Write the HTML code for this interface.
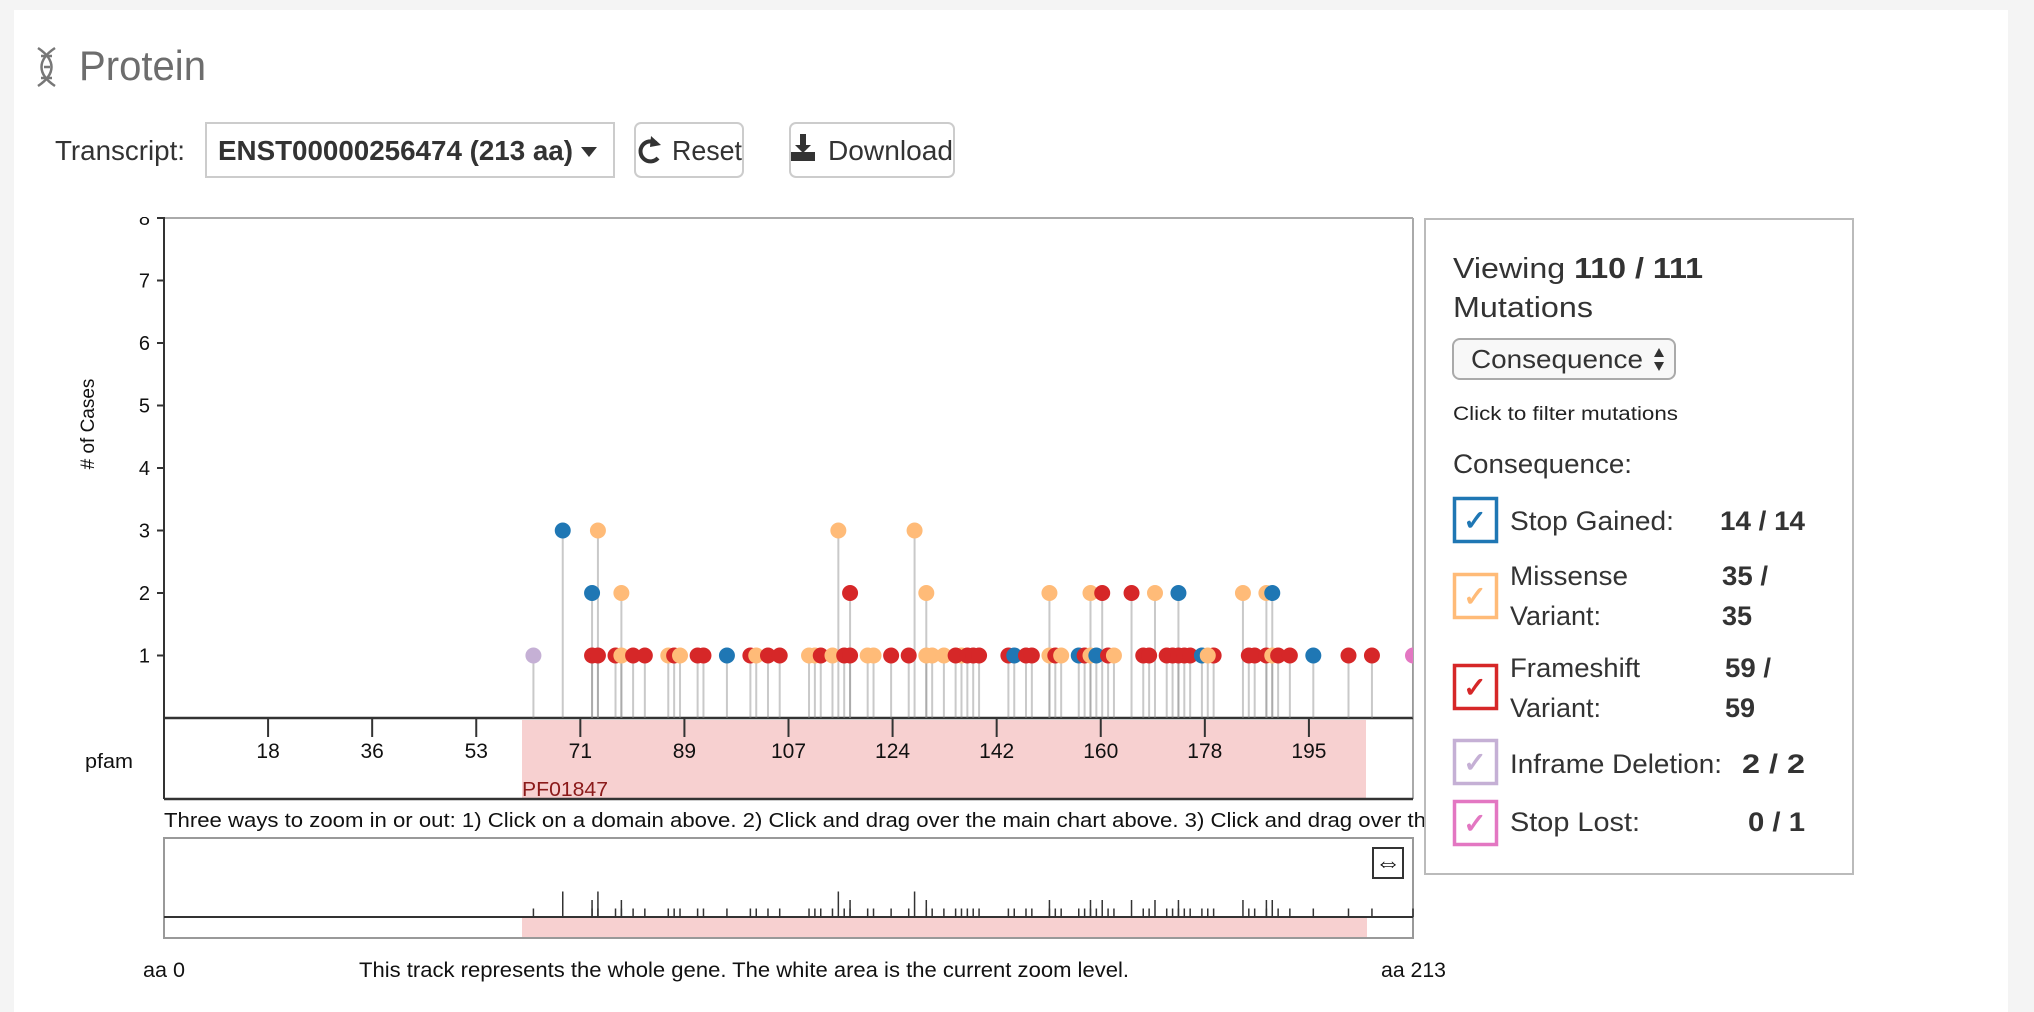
<!DOCTYPE html>
<html><head><meta charset="utf-8">
<style>
html,body{margin:0;padding:0;width:2034px;height:1012px;overflow:hidden;background:#f4f4f4;font-family:"Liberation Sans",sans-serif;}
#panel{position:absolute;left:14px;top:10px;width:1994px;height:1002px;background:#fff;}
svg{position:absolute;left:0;top:0;}
</style></head>
<body>
<div id="panel"></div>
<svg id="main" width="2034" height="1012" xmlns="http://www.w3.org/2000/svg" font-family="Liberation Sans, sans-serif">
  <defs>
    <clipPath id="chartClip"><rect x="164" y="218" width="1249" height="500"/></clipPath>
    <clipPath id="noteClip"><rect x="150" y="800" width="1274" height="40"/></clipPath>
  </defs>
  <g stroke="#777" stroke-width="2.5" fill="none">
    <path d="M38 48 C56 60,56 74,38 86"/><path d="M55 48 C37 60,37 74,55 86"/>
    <line x1="41" y1="56" x2="52" y2="56"/><line x1="44" y1="67" x2="50" y2="67"/><line x1="41" y1="78" x2="52" y2="78"/>
  </g>
  <text x="79" y="80" font-size="42" fill="#6d6d6d" textLength="127" lengthAdjust="spacingAndGlyphs">Protein</text>
  <text x="55" y="160" font-size="28" fill="#333" textLength="130" lengthAdjust="spacingAndGlyphs">Transcript:</text>
  <g>
    <rect x="206" y="123" width="408" height="54" fill="#fff" stroke="#ccc" stroke-width="2"/>
    <text x="218" y="160" font-size="28" font-weight="bold" fill="#333" textLength="355" lengthAdjust="spacingAndGlyphs">ENST00000256474 (213 aa)</text>
    <path d="M581 147 L597 147 L589 157 Z" fill="#333"/>
  </g>
  <g>
    <rect x="635" y="123" width="108" height="54" rx="6" fill="#fff" stroke="#ccc" stroke-width="2"/>
    <path d="M656 143 A10 10 0 1 0 658 158" fill="none" stroke="#333" stroke-width="4"/>
    <path d="M651 136 L661 145 L650 147 Z" fill="#333"/>
    <text x="672" y="160" font-size="28" fill="#333" textLength="70" lengthAdjust="spacingAndGlyphs">Reset</text>
  </g>
  <g>
    <rect x="790" y="123" width="164" height="54" rx="6" fill="#fff" stroke="#ccc" stroke-width="2"/>
    <path d="M800 134 L806 134 L806 145 L811 145 L803 153 L795 145 L800 145 Z" fill="#333"/>
    <rect x="791" y="152" width="24" height="9" fill="#333"/>
    <text x="828" y="160" font-size="28" fill="#333" textLength="125" lengthAdjust="spacingAndGlyphs">Download</text>
  </g>

  <rect x="522" y="720" width="844" height="78" fill="#f7d0d0"/>
  <text x="522" y="796" font-size="20" fill="#8b1a1a" textLength="86" lengthAdjust="spacingAndGlyphs">PF01847</text>
  <line x1="164" y1="218" x2="1413" y2="218" stroke="#aaa" stroke-width="2"/>
  <line x1="1413" y1="218" x2="1413" y2="799" stroke="#aaa" stroke-width="2"/>
  <line x1="164" y1="216" x2="164" y2="799" stroke="#333" stroke-width="2"/>
  <line x1="164" y1="718" x2="1413" y2="718" stroke="#333" stroke-width="2.5"/>
  <line x1="164" y1="799" x2="1413" y2="799" stroke="#333" stroke-width="2.5"/>
  <text x="85" y="768" font-size="20" fill="#111" textLength="48" lengthAdjust="spacingAndGlyphs">pfam</text>
  <text transform="translate(94,424) rotate(-90)" text-anchor="middle" font-size="19" fill="#111">&#35; of Cases</text>
  <g id="yaxis"></g>
  <g id="xaxis"></g>
  <g id="stems" clip-path="url(#chartClip)"></g>
  <g id="dots" clip-path="url(#chartClip)"></g>
  <rect x="130" y="190" width="60" height="27" fill="#fff"/>

  <g clip-path="url(#noteClip)">
    <text x="164" y="827" font-size="20" fill="#111" textLength="1262" lengthAdjust="spacingAndGlyphs">Three ways to zoom in or out: 1) Click on a domain above. 2) Click and drag over the main chart above. 3) Click and drag over th</text>
  </g>

  <g>
    <rect x="164" y="838" width="1249" height="100" fill="#fff" stroke="#999" stroke-width="2"/>
    <rect x="522" y="918" width="845" height="19" fill="#f7d0d0"/>
    <line x1="164" y1="917" x2="1413" y2="917" stroke="#333" stroke-width="2"/>
    <g id="mini"></g>
  </g>
  <g>
    <rect x="1373" y="848" width="30" height="30" fill="#fff" stroke="#333" stroke-width="2"/>
    <text x="1388" y="871" text-anchor="middle" font-size="26" fill="#111">&#8660;</text>
  </g>
  <text x="143" y="977" font-size="21" fill="#111" textLength="42" lengthAdjust="spacingAndGlyphs">aa 0</text>
  <text x="359" y="977" font-size="21" fill="#111" textLength="770" lengthAdjust="spacingAndGlyphs">This track represents the whole gene. The white area is the current zoom level.</text>
  <text x="1381" y="977" font-size="21" fill="#111" textLength="65" lengthAdjust="spacingAndGlyphs">aa 213</text>

  <g>
    <rect x="1425" y="219" width="428" height="655" fill="#fff" stroke="#bbb" stroke-width="2"/>
    <text x="1453" y="278" font-size="29" fill="#333" textLength="250" lengthAdjust="spacingAndGlyphs">Viewing <tspan font-weight="bold">110 / 111</tspan></text>
    <text x="1453" y="317" font-size="29" fill="#333" textLength="140" lengthAdjust="spacingAndGlyphs">Mutations</text>
    <text x="1453" y="420" font-size="19" fill="#222" textLength="225" lengthAdjust="spacingAndGlyphs">Click to filter mutations</text>
    <text x="1453" y="473" font-size="27" fill="#333" textLength="179" lengthAdjust="spacingAndGlyphs">Consequence:</text>
  </g>
  <g>
    <rect x="1453" y="339" width="222" height="40" rx="7" fill="#f8f8f8" stroke="#aaa" stroke-width="2"/>
    <text x="1471" y="368" font-size="26" fill="#333" textLength="172" lengthAdjust="spacingAndGlyphs">Consequence</text>
    <path d="M1654 357 L1664 357 L1659 348 Z M1654 362 L1664 362 L1659 371 Z" fill="#333"/>
  </g>
  <g id="legend"></g>
</svg>
<script>
const positions = [63,68,73,74,73,74,78,77,78,80,82,86,87,88,91,92,96,100,101,103,105,110,111,112,114,115,116,117,117,120,121,124,127,128,130,130,131,133,136,135,137,138,139,144,145,147,148,151,151,152,153,156,157,158,158,159,160,161,162,165,167,168,169,171,172,173,173,174,175,177,179,178,184,185,186,188,189,188,189,190,192,196,202,206,213];
const counts =    [1, 3, 2, 3, 1, 1, 2, 1, 1, 1, 1, 1, 1, 1, 1, 1, 1, 1, 1, 1, 1, 1, 1, 1, 1, 3, 1, 2, 1, 1, 1, 1, 1, 3, 2, 1, 1, 1, 1, 1, 1, 1, 1, 1, 1, 1, 1, 2, 1, 1, 1, 1, 1, 2, 1, 1, 2, 1, 1, 2, 1, 1, 2, 1, 1, 2, 1, 1, 1, 1, 1, 1, 2, 1, 1, 2, 2, 1, 1, 1, 1, 1, 1, 1, 1];
const types =     ["I","S","S","M","F","F","M","F","M","F","F","M","F","M","F","F","S","F","M","F","F","M","M","F","M","M","F","F","F","M","M","F","F","M","M","M","M","M","M","F","F","F","F","F","S","F","F","M","M","F","M","S","F","M","M","S","F","F","M","F","F","F","M","F","F","S","F","F","F","S","F","M","M","F","F","M","S","F","M","F","F","S","F","F","L"];
const yTicks = [1,2,3,4,5,6,7,8];
const xTicks = [17.75,35.5,53.25,71,88.75,106.5,124.25,142,159.75,177.5,195.25];
const legendNames = ["Stop Gained:","Missense|Variant:","Frameshift|Variant:","Inframe Deletion:","Stop Lost:"];
const legendCounts = ["14 / 14","35 /|35","59 /|59","2 / 2","0 / 1"];
const typeKeys = ["S","M","F","I","L"];

const colors = {S:"#1f77b4",M:"#ffbb78",F:"#d62728",I:"#c5b0d5",L:"#e377c2"};
const NS = "http://www.w3.org/2000/svg";
const xs = aa => 164 + aa * (1249/213);
const ys = c => 718 - c * 62.5;
function mk(tag, attrs, parent){const e=document.createElementNS(NS,tag);for(const k in attrs)e.setAttribute(k,attrs[k]);parent.appendChild(e);return e;}

const yg=document.getElementById('yaxis');
yTicks.forEach(t=>{
  const l=mk('line',{x1:157,y1:ys(t),x2:164,y2:ys(t),stroke:'#333','stroke-width':2},yg);
  
  
  const tx=mk('text',{x:150,y:ys(t)+7,'text-anchor':'end','font-size':20,fill:'#111'},yg);
  tx.textContent=t;
  
  
});
const xg=document.getElementById('xaxis');
xTicks.forEach(t=>{
  const l=mk('line',{x1:xs(t),y1:718,x2:xs(t),y2:737,stroke:'#333','stroke-width':2},xg);
  
  
  const tx=mk('text',{x:xs(t),y:758,'text-anchor':'middle','font-size':21,fill:'#111'},xg);
  tx.textContent=Math.round(t);
  
  
});
const sg=document.getElementById('stems'), dg=document.getElementById('dots'), mg=document.getElementById('mini');
positions.forEach((p,i)=>{
  const x=xs(p);
  const s=mk('line',{x1:x,y1:ys(counts[i]),x2:x,y2:718,stroke:'#888','stroke-opacity':0.45,'stroke-width':2},sg);
  
  
  const m=mk('line',{x1:x,y1:917,x2:x,y2:917-counts[i]*8.5,stroke:'#333','stroke-width':1.5},mg);
  
  
});
positions.forEach((p,i)=>{
  const c=mk('circle',{cx:xs(p),cy:ys(counts[i]),r:8,fill:colors[types[i]]},dg);
  
  
});
const lg=document.getElementById('legend');
const boxY=[497,573,664,739,800], txtY=[530,585,677,773,831];
const nameW=[[164],[118,91],[130,91],[212],[130]];
const cntX=[1720,1722,1725,1742,1748];
const cntW=[[85],[46],[46],[63],[57]];
typeKeys.forEach((k,i)=>{
  const g=mk('g',{},lg);
  
  
  mk('rect',{x:1454.5,y:boxY[i]+1.5,width:42,height:43,fill:'#fff',stroke:colors[k],'stroke-width':3.5},g);
  const ck=mk('text',{x:1475,y:boxY[i]+33,'text-anchor':'middle','font-size':28,'font-weight':'bold',fill:colors[k]},g);
  ck.textContent='\u2713';
  const nm=legendNames[i].split('|'), ct=legendCounts[i].split('|');
  nm.forEach((n,j)=>{const t=mk('text',{x:1510,y:txtY[i]+j*40,'font-size':27,fill:'#333',textLength:nameW[i][j],lengthAdjust:'spacingAndGlyphs'},g);t.textContent=n;});
  ct.forEach((n,j)=>{const t=mk('text',{x:cntX[i],y:txtY[i]+j*40,'font-size':27,'font-weight':'bold',fill:'#333'},g);if(j===0)t.setAttribute('textLength',cntW[i][0]);t.setAttribute('lengthAdjust','spacingAndGlyphs');t.textContent=n;});
});
</script>
</body></html>
